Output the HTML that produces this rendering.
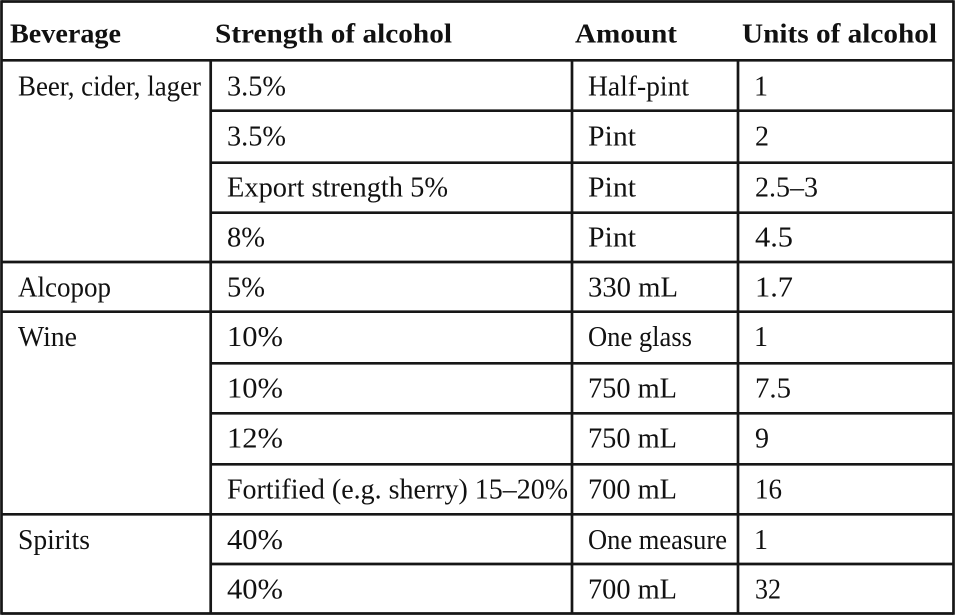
<!DOCTYPE html>
<html>
<head>
<meta charset="utf-8">
<style>
  html, body { margin: 0; padding: 0; background: #fff; }
  body { width: 957px; height: 616px; overflow: hidden; }
  svg { display: block; }
  svg text { font-family: "Liberation Serif", "DejaVu Serif", "Noto Serif CJK SC", serif; font-size: 28px; fill: #111; }
  svg text.h { font-weight: bold; font-size: 27px; }
</style>
</head>
<body>
<svg width="957" height="616" viewBox="0 0 957 616" xmlns="http://www.w3.org/2000/svg">
  <rect x="0" y="0" width="957" height="616" fill="#fff"/>
  <g stroke="#161616" stroke-width="2.7" fill="none">
    <line x1="1.5" y1="1.5" x2="953.5" y2="1.5"/>
    <line x1="1.5" y1="613.5" x2="953.5" y2="613.5"/>
    <line x1="1.5" y1="0.2" x2="1.5" y2="614.8"/>
    <line x1="953.5" y1="0.2" x2="953.5" y2="614.8"/>
    <line x1="1.5" y1="60.3" x2="953.5" y2="60.3"/>
    <line x1="210.7" y1="60.3" x2="210.7" y2="613.5"/>
    <line x1="572" y1="60.3" x2="572" y2="613.5"/>
    <line x1="738" y1="60.3" x2="738" y2="613.5"/>
    <line x1="210.7" y1="110.7" x2="953.5" y2="110.7"/>
    <line x1="210.7" y1="162.7" x2="953.5" y2="162.7"/>
    <line x1="210.7" y1="212.7" x2="953.5" y2="212.7"/>
    <line x1="210.7" y1="363.3" x2="953.5" y2="363.3"/>
    <line x1="210.7" y1="413.3" x2="953.5" y2="413.3"/>
    <line x1="210.7" y1="464.3" x2="953.5" y2="464.3"/>
    <line x1="210.7" y1="564" x2="953.5" y2="564"/>
    <line x1="1.5" y1="262" x2="953.5" y2="262"/>
    <line x1="1.5" y1="311.7" x2="953.5" y2="311.7"/>
    <line x1="1.5" y1="514.3" x2="953.5" y2="514.3"/>
  </g>

  <g fill="#111">
  <text class="h" x="10" y="42.7" textLength="111" lengthAdjust="spacingAndGlyphs">Beverage</text>
  <text class="h" x="215" y="42.7" textLength="237" lengthAdjust="spacingAndGlyphs">Strength of alcohol</text>
  <text class="h" x="575" y="42.7" textLength="102" lengthAdjust="spacingAndGlyphs">Amount</text>
  <text class="h" x="742" y="42.7" textLength="195" lengthAdjust="spacingAndGlyphs">Units of alcohol</text>

  <text x="18" y="95.3" textLength="183" lengthAdjust="spacingAndGlyphs">Beer, cider, lager</text>
  <text x="18" y="296.5" textLength="93" lengthAdjust="spacingAndGlyphs">Alcopop</text>
  <text x="18" y="346.2" textLength="59" lengthAdjust="spacingAndGlyphs">Wine</text>
  <text x="18" y="548.8" textLength="72" lengthAdjust="spacingAndGlyphs">Spirits</text>

  <text x="227" y="95.3" textLength="59" lengthAdjust="spacingAndGlyphs">3.5%</text>
  <text x="227" y="145.5" textLength="59" lengthAdjust="spacingAndGlyphs">3.5%</text>
  <text x="227" y="196.5" textLength="221" lengthAdjust="spacingAndGlyphs">Export strength 5%</text>
  <text x="227" y="246.5" textLength="38" lengthAdjust="spacingAndGlyphs">8%</text>
  <text x="227" y="296.5" textLength="38" lengthAdjust="spacingAndGlyphs">5%</text>
  <text x="227" y="346.2" textLength="56" lengthAdjust="spacingAndGlyphs">10%</text>
  <text x="227" y="397.5" textLength="56" lengthAdjust="spacingAndGlyphs">10%</text>
  <text x="227" y="447.5" textLength="56" lengthAdjust="spacingAndGlyphs">12%</text>
  <text x="227" y="498.5" textLength="341" lengthAdjust="spacingAndGlyphs">Fortified (e.g. sherry) 15–20%</text>
  <text x="227" y="548.8" textLength="56" lengthAdjust="spacingAndGlyphs">40%</text>
  <text x="227" y="598.5" textLength="56" lengthAdjust="spacingAndGlyphs">40%</text>

  <text x="588" y="95.3" textLength="101" lengthAdjust="spacingAndGlyphs">Half-pint</text>
  <text x="588" y="145.5" textLength="48" lengthAdjust="spacingAndGlyphs">Pint</text>
  <text x="588" y="196.5" textLength="48" lengthAdjust="spacingAndGlyphs">Pint</text>
  <text x="588" y="246.5" textLength="48" lengthAdjust="spacingAndGlyphs">Pint</text>
  <text x="588" y="296.5" textLength="90" lengthAdjust="spacingAndGlyphs">330 mL</text>
  <text x="588" y="346.2" textLength="104" lengthAdjust="spacingAndGlyphs">One glass</text>
  <text x="588" y="397.5" textLength="89" lengthAdjust="spacingAndGlyphs">750 mL</text>
  <text x="588" y="447.5" textLength="89" lengthAdjust="spacingAndGlyphs">750 mL</text>
  <text x="588" y="498.5" textLength="89" lengthAdjust="spacingAndGlyphs">700 mL</text>
  <text x="588" y="548.8" textLength="139" lengthAdjust="spacingAndGlyphs">One measure</text>
  <text x="588" y="598.5" textLength="89" lengthAdjust="spacingAndGlyphs">700 mL</text>

  <text x="754" y="95.3">1</text>
  <text x="755" y="145.5">2</text>
  <text x="755" y="196.5" textLength="63" lengthAdjust="spacingAndGlyphs">2.5–3</text>
  <text x="755" y="246.5" textLength="38" lengthAdjust="spacingAndGlyphs">4.5</text>
  <text x="755" y="296.5" textLength="38" lengthAdjust="spacingAndGlyphs">1.7</text>
  <text x="754" y="346.2">1</text>
  <text x="755" y="397.5" textLength="36" lengthAdjust="spacingAndGlyphs">7.5</text>
  <text x="755" y="447.5">9</text>
  <text x="755" y="498.5" textLength="27" lengthAdjust="spacingAndGlyphs">16</text>
  <text x="754" y="548.8">1</text>
  <text x="755" y="598.5" textLength="26" lengthAdjust="spacingAndGlyphs">32</text>
  </g>
</svg>
</body>
</html>
